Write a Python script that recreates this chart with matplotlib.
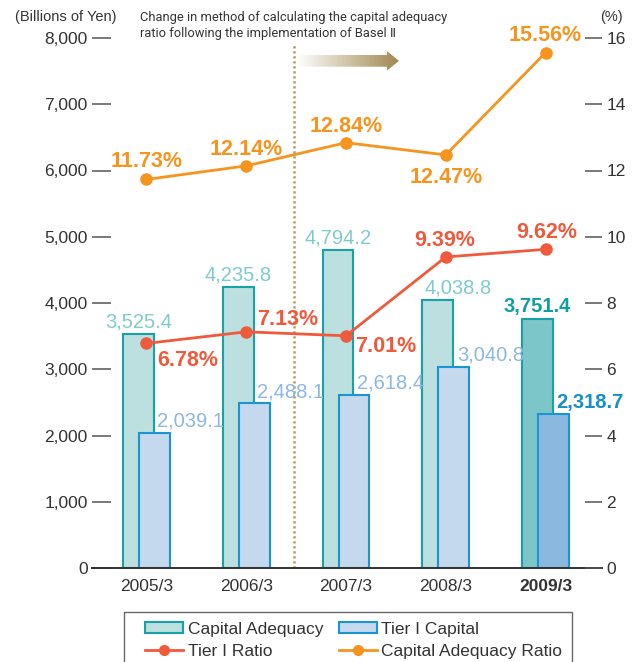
import numpy as np
import matplotlib
matplotlib.use("Agg")
import matplotlib.pyplot as plt
from matplotlib.patches import Rectangle, Polygon, Patch
from matplotlib.lines import Line2D
from matplotlib.colors import LinearSegmentedColormap

# ---- data ----
years = ["2005/3", "2006/3", "2007/3", "2008/3", "2009/3"]
capital_adequacy = [3525.4, 4235.8, 4794.2, 4038.8, 3751.4]
tier1_capital = [2039.1, 2488.1, 2618.4, 3040.8, 2318.7]
tier1_ratio = [6.78, 7.13, 7.01, 9.39, 9.62]
car_ratio = [11.73, 12.14, 12.84, 12.47, 15.56]
left_ticks = [0, 1000, 2000, 3000, 4000, 5000, 6000, 7000, 8000]
left_tick_labels = ["0", "1,000", "2,000", "3,000", "4,000", "5,000", "6,000", "7,000", "8,000"]
right_ticks = [0, 2, 4, 6, 8, 10, 12, 14, 16]
right_tick_labels = ["0", "2", "4", "6", "8", "10", "12", "14", "16"]

# ---- style ----
FONT = ["Liberation Sans", "DejaVu Sans"]
NARROW = ["Roboto", "DejaVu Sans"]
plt.rcParams["font.family"] = FONT

ca_fill = ["#bcdfe0"] * 4 + ["#7cc5c9"]
ca_edge = "#17a2a7"
t1_fill = ["#c4d8ee"] * 4 + ["#8ab8df"]
t1_edge = "#1a95cf"
ca_lbl = ["#7ecbcf"] * 4 + ["#0f9fa0"]
t1_lbl = ["#8cb8e0"] * 4 + ["#168fca"]
red = "#ef5a3c"
orange = "#f7941e"
txt = "#333333"

W, H = 636, 662
fig = plt.figure(figsize=(W / 100, H / 100), dpi=100)
ax = fig.add_axes([92 / W, 94 / H, 510 / W, 530 / H])
ax2 = ax.twinx()

x = np.arange(len(years))
bw = 0.31
off = 0.08

ax.bar(x - off, capital_adequacy, width=bw, color=ca_fill, edgecolor=ca_edge, linewidth=1.5, zorder=2)
ax.bar(x + off, tier1_capital, width=bw, color=t1_fill, edgecolor=t1_edge, linewidth=1.5, zorder=3)

# dotted separator
ax.plot([1.48, 1.48], [0, 7900], linestyle=(0, (0.9, 1.1)), color="#b8985c", linewidth=1.8, zorder=1, clip_on=False)

# gradient arrow
cmap = LinearSegmentedColormap.from_list("arr", ["#ffffff", "#a08850"])
grad = np.linspace(0, 1, 256).reshape(1, -1)
ax0, ax1, hx = 1.509, 2.531, 2.41
ys0, ys1, yh0, yh1 = 7567, 7743, 7506, 7804
poly = Polygon([(ax0, ys0), (hx, ys0), (hx, yh0), (ax1, (ys0 + ys1) / 2), (hx, yh1), (hx, ys1), (ax0, ys1)],
               closed=True, transform=ax.transData, facecolor="none", edgecolor="none")
ax.add_patch(poly)
im = ax.imshow(grad, extent=[ax0, ax1, yh0, yh1], aspect="auto", cmap=cmap, zorder=4, interpolation="bilinear")
im.set_clip_path(poly)

# bar labels
ca_dx = [0, 0, 0, 20, 0]
for i in range(len(years)):
    ax.annotate(f"{capital_adequacy[i]:,.1f}", xy=(x[i] - off, capital_adequacy[i]), xytext=(ca_dx[i], 7),
                textcoords="offset pixels", ha="center", va="baseline", fontsize=14.5, color=ca_lbl[i],
                fontweight="bold" if i == 4 else "normal", zorder=6)
    ax.annotate(f"{tier1_capital[i]:,.1f}", xy=(x[i] + off, tier1_capital[i]), xytext=(3, 6),
                textcoords="offset pixels", ha="left", va="baseline", fontsize=14.5, color=t1_lbl[i],
                fontweight="bold" if i == 4 else "normal", zorder=6)

# ratio lines
ax2.plot(x, car_ratio, color=orange, linewidth=2, marker="o", markersize=8, zorder=5)
ax2.plot(x, tier1_ratio, color=red, linewidth=2, marker="o", markersize=8, zorder=5)

red_off = [(10.5, -22.7, "left"), (11, 7.3, "left"), (9, -16.2, "left"), (-1.5, 11.3, "center"), (1, 11.8, "center")]
org_off = [(0, 12.3), (0, 11.3), (0, 10.3), (0, -28.2), (0, 11.3)]
for i in range(len(years)):
    dx, dy, ha = red_off[i]
    ax2.annotate(f"{tier1_ratio[i]:.2f}%", xy=(x[i], tier1_ratio[i]), xytext=(dx, dy), textcoords="offset pixels",
                 ha=ha, va="baseline", fontsize=15.5, color=red, fontweight="bold")
    dx, dy = org_off[i]
    ax2.annotate(f"{car_ratio[i]:.2f}%", xy=(x[i], car_ratio[i]), xytext=(dx, dy), textcoords="offset pixels",
                 ha="center", va="baseline", fontsize=15.5, color=orange, fontweight="bold")

# axes styling
ax.set_xlim(-0.546, 4.566)
ax.set_ylim(0, 8000)
ax2.set_ylim(0, 16)
for a in (ax, ax2):
    for s in ("top", "left", "right"):
        a.spines[s].set_visible(False)
ax2.spines["bottom"].set_visible(False)
ax.spines["bottom"].set_color("#333333")
ax.spines["bottom"].set_linewidth(1.4)
ax.spines["bottom"].set_zorder(7)

ax.set_yticks(left_ticks)
ax.set_yticklabels(left_tick_labels)
ax.tick_params(axis="y", direction="in", length=14, width=1.1, color="#555555", pad=3,
               labelsize=12.5, labelcolor=txt)
ax2.set_yticks(right_ticks)
ax2.set_yticklabels(right_tick_labels)
ax2.tick_params(axis="y", direction="in", length=12, width=1.1, color="#555555", pad=3,
                labelsize=12.5, labelcolor=txt)
ax.set_xticks(x)
ax.set_xticklabels(years)
ax.tick_params(axis="x", length=0, pad=8, labelsize=12.5, labelcolor=txt)
ax.get_xticklabels()[-1].set_fontweight("bold")

# header texts
fig.text(15 / W, 1 - 17 / H, "(Billions of Yen)", fontsize=10.5, color=txt, va="center", ha="left")
fig.text(140 / W, 1 - 17 / H, "Change in method of calculating the capital adequacy", fontsize=9.3,
         color=txt, va="center", ha="left", family=NARROW)
fig.text(140 / W, 1 - 33 / H, "ratio following the implementation of Basel \u2161", fontsize=9.3,
         color=txt, va="center", ha="left", family=NARROW)
fig.text(611 / W, 1 - 17 / H, "(%)", fontsize=10.5, color=txt, va="center", ha="center")

# legend
handles = [
    Patch(facecolor="#bcdfe0", edgecolor=ca_edge, linewidth=1.5),
    Line2D([], [], color=red, linewidth=2, marker="o", markersize=7),
    Patch(facecolor="#c4d8ee", edgecolor=t1_edge, linewidth=1.5),
    Line2D([], [], color=orange, linewidth=2, marker="o", markersize=7),
]
labels = ["Capital Adequacy", "Tier I Ratio", "Tier I Capital", "Capital Adequacy Ratio"]
fig.legend(handles, labels, ncol=2, loc="upper left", bbox_to_anchor=(145 / W, 1 - 622 / H),
           frameon=False, fontsize=12.5, handlelength=2.2, handleheight=0.6, handletextpad=0.25,
           columnspacing=0.9, labelspacing=0.42, borderpad=0, borderaxespad=0, labelcolor=txt)
fig.patches.append(Rectangle((124 / W, -0.1), (572 - 124) / W, (1 - 612 / H) + 0.1,
                             transform=fig.transFigure, fill=False, edgecolor="#666666", linewidth=1.0))

fig.savefig("out.png", dpi=100)
